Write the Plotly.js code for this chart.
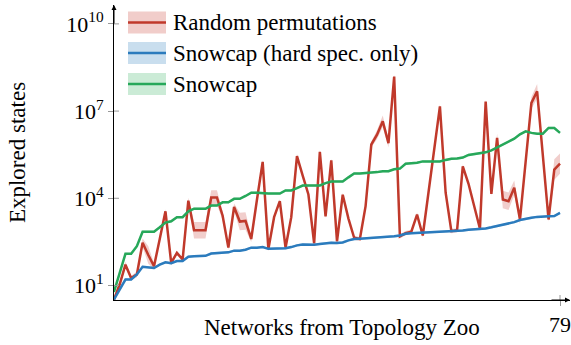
<!DOCTYPE html>
<html><head><meta charset="utf-8">
<script src="https://cdn.plot.ly/plotly-3.0.1.min.js"></script>
<style>
html,body{margin:0;padding:0;background:#fff}
#chart{width:571px;height:345px}
</style>
</head><body><div id="chart"></div>
<script>
const networkIndex = [1,2,3,4,5,6,7,8,9,10,11,12,13,14,15,16,17,18,19,20,21,22,23,24,25,26,27,28,29,30,31,32,33,34,35,36,37,38,39,40,41,42,43,44,45,46,47,48,49,50,51,52,53,54,55,56,57,58,59,60,61,62,63,64,65,66,67,68,69,70,71,72,73,74,75,76,77,78,79];

const randomPermutations = [3.3,11,52,18,24,295,112,46,398,3550,60,132,78,8300,794,794,794,10700,10700,2510,200,5010,1580,1660,398,8910,178000,178,2240,7940,200,2240,282000,60300,13500,282,398000,2400,200000,331,13200,2000,437,398,5370,708000,1550000,4470000,794000,155000000,490,631,708,2750,525,15800,501000,14500000,15500,741,794,126000,31600,5010,891,21400000,14100,1200000,9120,7940,22900,1860,200000,19100000,47900000,316000,1860,97700,155000];
// half-width of the shaded band, in decades
const randomSpread = [0.1,0.1,0.1,0.07,0.1,0.15,0.3,0.1,0.07,0.07,0.07,0.07,0.07,0.1,0.28,0.28,0.28,0.25,0.25,0.15,0.07,0.12,0.3,0.3,0.1,0.07,0.07,0.07,0.07,0.07,0.07,0.07,0.07,0.07,0.07,0.07,0.07,0.07,0.07,0.07,0.07,0.07,0.07,0.07,0.07,0.1,0.15,0.2,0.15,0.08,0.07,0.07,0.07,0.07,0.07,0.07,0.07,0.07,0.07,0.07,0.07,0.07,0.07,0.07,0.07,0.07,0.07,0.15,0.3,0.3,0.25,0.15,0.07,0.2,0.25,0.1,0.07,0.35,0.35];

const snowcapHardOnly = [3.3,7.2,16,16,24,44,42,40,52,63,58,69,69,98,102,102,105,126,132,135,138,158,158,170,200,200,209,182,182,186,191,209,240,257,251,251,269,288,295,288,302,355,398,407,417,437,447,468,479,490,525,603,631,646,646,646,661,676,692,708,741,776,832,851,891,912,1000,1100,1200,1350,1510,1780,2000,2140,2290,2400,2400,2450,3160];

const snowcap = [6,28,123,123,224,708,708,708,1000,1450,1620,2240,2240,3550,4370,4370,4370,5620,5620,7240,7240,9550,9550,12000,15500,15500,14800,14500,14500,14500,18600,18600,22400,27500,27500,27500,27500,33100,38000,38000,38000,52500,70800,70800,72400,74100,79400,85100,85100,100000,105000,155000,158000,166000,186000,186000,186000,186000,209000,229000,234000,251000,309000,331000,363000,380000,447000,562000,676000,851000,1120000,1580000,2000000,1780000,1660000,1660000,2630000,2630000,1780000];
const snowcapSpread = 0.04;

const seriesNames = ['Random permutations', 'Snowcap (hard spec. only)', 'Snowcap'];
const xTitle = 'Networks from Topology Zoo';
const yTitle = 'Explored states';
const yTickValues = [10, 1e4, 1e7, 1e10];
const yTickLabels = ['10<sup>1</sup>', '10<sup>4</sup>', '10<sup>7</sup>', '10<sup>10</sup>'];
const xTickValues = [79];
const xTickLabels = ['79'];

const lineColors = ['#c0392b', '#2b7bbd', '#27a85a'];
const bandColors = ['rgba(200,60,50,0.25)', 'rgba(43,123,189,0.25)', 'rgba(39,168,90,0.25)'];
const swatchColors = ['#f1cdca', '#c9deee', '#cbebd6'];

function band(vals, spread) {
  const lo = [], hi = [];
  vals.forEach((v, i) => {
    const s = Array.isArray(spread) ? spread[i] : spread;
    lo.push(v / Math.pow(10, s));
    hi.push(v * Math.pow(10, s));
  });
  return {lo, hi};
}

const series = [
  {vals: randomPermutations, spread: randomSpread},
  {vals: snowcapHardOnly, spread: snowcapSpread},
  {vals: snowcap, spread: snowcapSpread}
];

const traces = [];
series.forEach((s, k) => {
  const b = band(s.vals, s.spread);
  traces.push({x: networkIndex, y: b.lo, mode: 'lines', line: {width: 0}, showlegend: false, hoverinfo: 'skip'});
  traces.push({x: networkIndex, y: b.hi, mode: 'lines', line: {width: 0}, fill: 'tonexty', fillcolor: bandColors[k], showlegend: false, hoverinfo: 'skip'});
  traces.push({x: networkIndex, y: s.vals, mode: 'lines', name: seriesNames[k], line: {color: lineColors[k], width: 2.5}, showlegend: false});
});

// plot area in pixels
const L = 114, R = 570, T = 5, B = 300;
const px = v => (v - L) / (R - L);
const py = v => (B - v) / (B - T);

const FAMILY = 'Liberation Serif';
const font = {family: FAMILY, size: 23, color: '#000'};
const tickFont = {family: FAMILY, size: 22, color: '#000'};
const rowCenters = [22.5, 53, 84];
const shapes = [], annotations = [];
rowCenters.forEach((c, k) => {
  shapes.push({type: 'rect', xref: 'paper', yref: 'paper', x0: px(128), x1: px(166), y0: py(c + 11), y1: py(c - 11), fillcolor: swatchColors[k], line: {width: 0}, layer: 'above'});
  shapes.push({type: 'line', xref: 'paper', yref: 'paper', x0: px(128), x1: px(166), y0: py(c), y1: py(c), line: {color: lineColors[k], width: 2.5}, layer: 'above'});
  annotations.push({xref: 'paper', yref: 'paper', x: px(171), y: py(c), xanchor: 'left', yanchor: 'middle', text: seriesNames[k], showarrow: false, font: font});
});
// inner halves of the crossing tick marks
yTickValues.forEach(v => {
  shapes.push({type: 'line', xref: 'paper', yref: 'y', x0: 0, x1: 5 / (R - L), y0: v, y1: v, line: {color: '#999', width: 1}});
});
xTickValues.forEach(v => {
  shapes.push({type: 'line', xref: 'x', yref: 'paper', x0: v, x1: v, y0: 0, y1: 5 / (B - T), line: {color: '#999', width: 1}});
});
// x-axis title
annotations.push({xref: 'paper', yref: 'paper', x: 0.5, y: py(327), xanchor: 'center', yanchor: 'middle', text: xTitle, showarrow: false, font: font});
// axis arrowheads
annotations.push({xref: 'paper', yref: 'paper', x: 0, y: 1, ax: 0, ay: 20, showarrow: true, arrowhead: 2, arrowsize: 1, arrowwidth: 1, arrowcolor: '#000', text: '', standoff: 0});
annotations.push({xref: 'paper', yref: 'paper', x: 1, y: 0, ax: -20, ay: 0, showarrow: true, arrowhead: 2, arrowsize: 1, arrowwidth: 1, arrowcolor: '#000', text: '', standoff: 0});

const layout = {
  width: 571, height: 345,
  margin: {l: L, r: 571 - R, t: T, b: 345 - B},
  paper_bgcolor: '#fff', plot_bgcolor: '#fff',
  font: font,
  showlegend: false,
  xaxis: {
    range: [1, 1 + 78 * (R - L) / 446], showgrid: false, zeroline: false,
    showline: true, linecolor: '#000', linewidth: 1,
    tickmode: 'array', tickvals: xTickValues, ticktext: xTickLabels,
    ticks: 'outside', ticklen: 5, tickcolor: '#999',
    tickfont: tickFont
  },
  yaxis: {
    type: 'log', range: [0.5, 10.65], showgrid: false, zeroline: false,
    showline: true, linecolor: '#000', linewidth: 1,
    tickmode: 'array', tickvals: yTickValues, ticktext: yTickLabels,
    ticks: 'outside', ticklen: 5, tickcolor: '#999',
    tickfont: tickFont,
    title: {text: yTitle, font: font, standoff: 34}
  },
  shapes: shapes,
  annotations: annotations
};

Plotly.newPlot('chart', traces, layout, {displayModeBar: false, staticPlot: true});
</script>
</body></html>
